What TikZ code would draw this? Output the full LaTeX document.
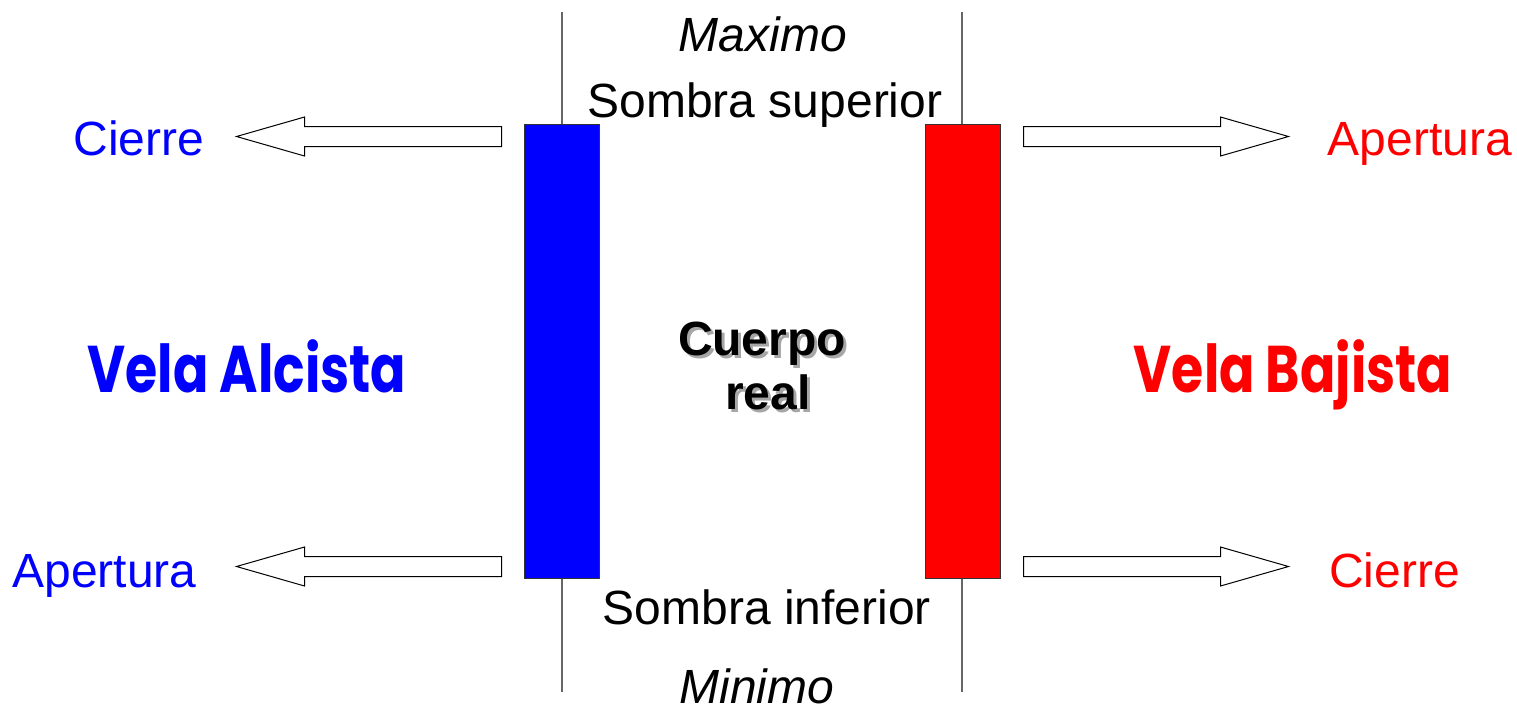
\documentclass[tikz,border=0pt]{standalone}
\usepackage{fontspec}
\setmainfont{Liberation Sans}
\newfontfamily\velafont{Poppins}[FakeStretch=0.79]
\usetikzlibrary{
arrows.meta,
positioning,
shapes.arrows
}
\tikzset{>=latex}
\tikzset{
	wick/.style={draw=black!60, line width=0.6pt},
	body/.style={draw=black!80, line width=0.5pt, minimum width=37.5pt, minimum height=227pt, inner sep=0pt},
	hollow/.style={single arrow, draw, fill=white, line width=0.5pt, inner xsep=0pt, inner ysep=4.75pt,
		minimum height=132.5pt, single arrow head extend=4.75pt,
		single arrow tip angle=32, anchor=tail},
	lbl/.style={anchor=base, inner sep=0pt, font=\fontsize{24}{28}\selectfont},
	vela/.style={anchor=base, inner sep=0pt, font=\velafont\bfseries\fontsize{33}{38}\selectfont}
}

\begin{document}
\begin{tikzpicture}[x=0.5pt, y=-0.5pt]
	\useasboundingbox (0,0) rectangle (1517,709);
	% mechas
	\coordinate (wt1) at (562,12);  \coordinate (wb1) at (562,692);
	\coordinate (wt2) at (962,12);  \coordinate (wb2) at (962,692);
	\draw[wick] (wt1) -- (wb1);
	\draw[wick] (wt2) -- (wb2);
	% cuerpos
	\node[body, fill={rgb,255:red,0;green,0;blue,255}] (alza) at (561.5,351) {};
	\node[body, fill={rgb,255:red,255;green,0;blue,0}] (baja) at (962.5,351) {};
	% flechas
	\node[hollow, shape border rotate=180] (fa1) at (502,136.5) {};
	\node[hollow, shape border rotate=180] (fa2) at (502,566.5) {};
	\node[hollow] (fb1) at (1023,136.5) {};
	\node[hollow] (fb2) at (1023,566.5) {};
	% textos
	\node[lbl, text=blue] (cierreA) at (139,155) {Cierre};
	\node[lbl, text=blue] (aperturaA) at (104.5,587) {Apertura};
	\node[lbl, text=red] (aperturaB) at (1420,155) {Apertura};
	\node[lbl, text=red] (cierreB) at (1394.5,587) {Cierre};
	\node[lbl, font=\itshape\fontsize{24}{28}\selectfont] (maximo) at (763,51) {Maximo};
	\node[lbl] (supe) at (765,117) {Sombra superior};
	\node[lbl] (infe) at (767,624) {Sombra inferior};
	\node[lbl, font=\itshape\fontsize{24}{28}\selectfont] (minimo) at (757,703) {Minimo};
	% cuerpo real con sombra
	\node[lbl, text=black!35, font=\bfseries\fontsize{24}{28}\selectfont] at (765,358) {Cuerpo};
	\node[lbl, text=black!35, font=\bfseries\fontsize{24}{28}\selectfont] at (771,412) {real};
	\node[lbl, font=\bfseries\fontsize{24}{28}\selectfont] (cuerpo) at (762,355) {Cuerpo};
	\node[lbl, font=\bfseries\fontsize{24}{28}\selectfont] (real) at (768,409) {real};
	\node[vela, text=blue] (velaA) at (247,392) {Vela Alcista};
	\node[vela, text=red] (velaB) at (1293,392) {Vela Bajista};
\end{tikzpicture}
\end{document}
